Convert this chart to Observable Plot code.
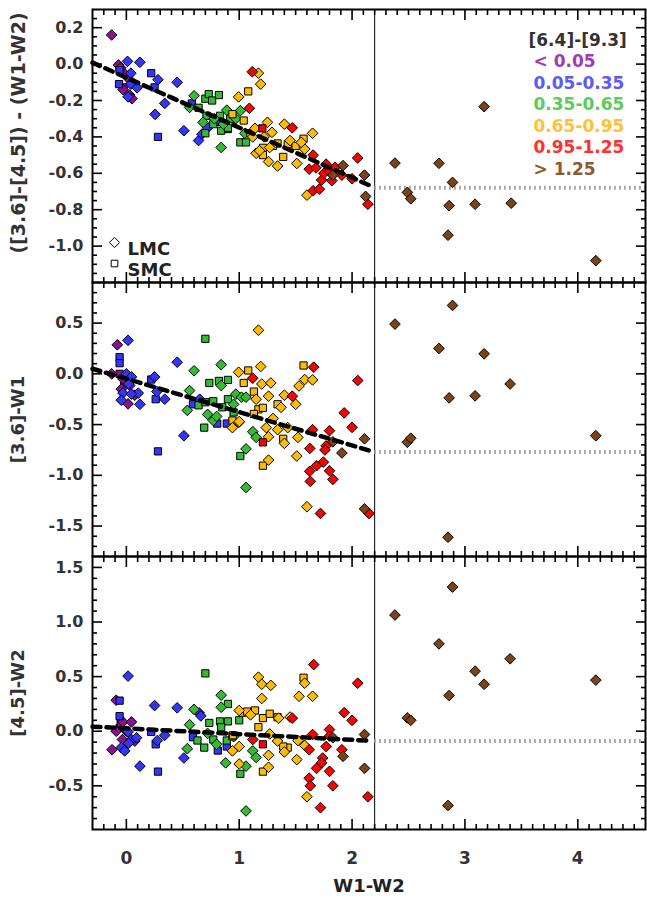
<!DOCTYPE html>
<html><head><meta charset="utf-8">
<script src="https://cdn.jsdelivr.net/npm/d3@7"></script>
<script src="https://cdn.jsdelivr.net/npm/@observablehq/plot@0.6"></script>
<style>
body{margin:0;background:#fff;}
#chart{width:647px;}
#chart svg{display:block;}
</style></head><body><div id="chart"></div>
<script>
// [6.4]-[9.3] colour classes
const groupLabels = ["< 0.05","0.05-0.35","0.35-0.65","0.65-0.95","0.95-1.25","> 1.25"];
const markerColors = ["#8c0f96","#3434ff","#33bb33","#ffbb00","#ff0000","#7b4418"];
const legendColors = ["#a23bb0","#5a5aff","#5acc5a","#ffc233","#ff3030","#8e5a30"];
const xDomain = [-0.3, 4.6];
const xMajor = [0, 1, 2, 3, 4];
const splitX = 2.2;

// points: [W1-W2, y, class, SMC?]
const topPts = [
[-0.13,0.16,0,0],[-0.07,-0.005,0,0],[-0.06,-0.02,0,1],[-0.03,-0.14,0,0],[0.03,-0.17,0,0],[0.05,-0.19,0,0],[-0.02,-0.05,0,0],[-0.02,-0.128,0,1],[-0.05,-0.02,0,0],[0.02,-0.08,0,0],
[0.01,0.015,1,0],[0.12,0.01,1,0],[0.04,-0.05,1,0],[0.04,-0.11,1,0],[0.015,-0.18,1,0],[0.095,-0.13,1,0],[0.28,-0.086,1,0],[0.34,-0.216,1,0],[0.255,-0.276,1,0],[0.45,-0.10,1,0],[0.51,-0.366,1,0],[0.64,-0.42,1,0],[0.67,-0.385,1,0],[0.72,-0.35,1,0],
[-0.06,-0.033,1,1],[-0.065,-0.11,1,1],[0.22,-0.05,1,1],[0.25,-0.128,1,1],[0.28,-0.40,1,1],[0.58,-0.216,1,1],[0.805,-0.317,1,1],[0.9,-0.357,1,1],
[0.60,-0.174,2,0],[0.84,-0.458,2,0],[0.89,-0.253,2,0],[0.68,-0.32,2,0],[0.56,-0.238,2,0],[1.01,-0.256,2,0],[0.97,-0.30,2,0],[1.05,-0.38,2,0],[0.78,-0.30,2,0],[0.86,-0.33,2,0],
[0.70,-0.19,2,1],[0.73,-0.165,2,1],[0.76,-0.20,2,1],[0.82,-0.17,2,1],[0.71,-0.284,2,1],[0.83,-0.284,2,1],[0.70,-0.38,2,1],[0.84,-0.366,2,1],[1.01,-0.43,2,1],[0.64,-0.24,2,1],[0.9,-0.35,2,1],[1.06,-0.43,2,1],[0.92,-0.30,2,1],[0.77,-0.33,2,1],
[0.995,-0.18,3,0],[1.17,-0.05,3,0],[1.19,-0.11,3,0],[1.25,-0.32,3,0],[1.29,-0.375,3,0],[1.40,-0.33,3,0],[1.65,-0.38,3,0],[1.15,-0.49,3,0],[1.26,-0.536,3,0],[1.34,-0.56,3,0],[1.51,-0.546,3,0],[1.60,-0.72,3,0],[1.58,-0.467,3,0],[1.27,-0.458,3,0],[1.18,-0.476,3,0],[1.14,-0.353,3,0],[1.12,-0.40,3,0],[1.45,-0.42,3,0],[1.55,-0.43,3,0],[1.22,-0.40,3,0],
[0.94,-0.275,3,1],[1.08,-0.15,3,1],[1.04,-0.31,3,1],[1.57,-0.41,3,1],[1.21,-0.46,3,1],[1.21,-0.50,3,1],[1.34,-0.436,3,1],[1.39,-0.51,3,1],[1.43,-0.44,3,1],[1.50,-0.45,3,1],[1.30,-0.45,3,1],[1.10,-0.38,3,1],
[1.116,-0.042,4,0],[1.09,-0.243,4,0],[1.47,-0.35,4,0],[1.655,-0.50,4,0],[1.62,-0.577,4,0],[1.68,-0.57,4,0],[1.77,-0.55,4,0],[1.73,-0.637,4,0],[1.655,-0.696,4,0],[1.71,-0.687,4,0],[1.82,-0.64,4,0],[1.85,-0.567,4,0],[1.91,-0.61,4,0],[2.05,-0.516,4,0],[2.0,-0.63,4,0],[2.14,-0.77,4,0],[1.75,-0.60,4,0],[1.80,-0.59,4,0],
[1.205,-0.353,4,1],
[1.92,-0.558,5,0],[1.83,-0.61,5,0],[2.11,-0.61,5,0],[2.12,-0.727,5,0],[2.38,-0.544,5,0],[2.77,-0.545,5,0],[3.17,-0.234,5,0],[2.49,-0.705,5,0],[2.52,-0.74,5,0],[2.89,-0.65,5,0],[2.86,-0.778,5,0],[3.09,-0.77,5,0],[3.41,-0.764,5,0],[2.85,-0.94,5,0],[4.16,-1.08,5,0]
];
const midPts = [
[-0.08,0.286,0,0],[-0.13,0.0,0,0],[-0.06,0.0,0,1],[-0.03,-0.05,0,0],[-0.045,-0.15,0,0],[0.015,-0.296,0,0],[0.03,-0.115,0,0],[0.075,-0.21,0,0],[-0.02,-0.10,0,1],
[0.015,0.33,1,0],[0.45,0.115,1,0],[0.0,0.0,1,0],[0.045,-0.03,1,0],[-0.03,-0.19,1,0],[-0.045,-0.26,1,0],[0.12,-0.30,1,0],[0.105,-0.19,1,0],[0.045,-0.2,1,0],[0.27,-0.175,1,0],[0.34,-0.25,1,0],[0.25,-0.03,1,0],[0.51,-0.61,1,0],[0.65,-0.25,1,0],[0.02,-0.10,1,0],
[-0.06,0.164,1,1],[-0.06,0.105,1,1],[0.22,-0.056,1,1],[0.26,-0.25,1,1],[0.28,-0.764,1,1],[0.59,-0.30,1,1],[0.805,-0.49,1,1],[0.89,-0.49,1,1],
[0.84,0.09,2,0],[0.60,0.03,2,0],[0.56,-0.165,2,0],[0.54,-0.36,2,0],[0.77,-0.46,2,0],[0.84,-0.115,2,0],[0.97,-0.2,2,0],[1.02,-0.23,2,0],[1.06,-0.23,2,0],[1.12,-0.57,2,0],[1.15,-0.626,2,0],[1.06,-0.74,2,0],[1.06,-1.12,2,0],[0.72,-0.40,2,0],[0.80,-0.42,2,0],[0.95,-0.30,2,0],
[0.70,0.345,2,1],[0.735,-0.09,2,1],[0.82,-0.07,2,1],[0.90,-0.06,2,1],[0.64,-0.31,2,1],[0.70,-0.28,2,1],[0.77,-0.27,2,1],[0.90,-0.25,2,1],[0.69,-0.53,2,1],[1.01,-0.81,2,1],[0.85,-0.33,2,1],[0.95,-0.38,2,1],
[0.995,0.016,3,0],[1.17,0.43,3,0],[1.19,0.072,3,0],[1.2,-0.10,3,0],[1.28,-0.09,3,0],[1.53,-0.12,3,0],[1.58,-0.056,3,0],[1.65,-0.06,3,0],[1.40,-0.21,3,0],[1.50,-0.30,3,0],[1.26,-0.22,3,0],[1.15,-0.25,3,0],[1.37,-0.33,3,0],[0.94,-0.53,3,0],[0.995,-0.48,3,0],[1.30,-0.44,3,0],[1.24,-0.53,3,0],[1.34,-0.55,3,0],[1.43,-0.53,3,0],[1.52,-0.626,3,0],[1.40,-0.685,3,0],[1.26,-0.62,3,0],[1.51,-0.81,3,0],[1.26,-0.85,3,0],[1.60,-1.31,3,0],[1.0,-0.47,3,0],
[0.94,-0.46,3,1],[1.57,0.082,3,1],[1.08,0.033,3,1],[1.04,-0.09,3,1],[1.13,-0.175,3,1],[1.34,-0.30,3,1],[1.17,-0.35,3,1],[1.21,-0.335,3,1],[1.13,-0.395,3,1],[1.39,-0.64,3,1],[1.21,-0.905,3,1],
[1.66,0.066,4,0],[2.05,-0.066,4,0],[1.12,-0.043,4,0],[1.47,-0.22,4,0],[1.65,-0.55,4,0],[1.80,-0.56,4,0],[1.93,-0.385,4,0],[2.0,-0.527,4,0],[1.625,-0.735,4,0],[1.77,-0.71,4,0],[1.745,-0.87,4,0],[1.685,-0.905,4,0],[1.625,-0.96,4,0],[1.80,-0.955,4,0],[1.83,-1.04,4,0],[1.63,-1.06,4,0],[1.72,-1.376,4,0],[2.15,-1.376,4,0],[1.76,-0.75,4,0],
[1.21,-0.675,4,1],
[1.83,-0.67,5,0],[1.91,-0.78,5,0],[2.11,-0.64,5,0],[2.11,-1.33,5,0],[2.89,0.674,5,0],[2.38,0.49,5,0],[2.77,0.25,5,0],[3.17,0.197,5,0],[3.40,-0.1,5,0],[2.86,-0.237,5,0],[3.09,-0.217,5,0],[2.49,-0.675,5,0],[2.52,-0.635,5,0],[4.16,-0.61,5,0],[2.85,-1.61,5,0]
];
const botPts = [
[-0.09,0.284,0,0],[-0.03,0.085,0,0],[0.045,0.085,0,0],[-0.06,0.03,0,1],[-0.09,0.0,0,0],[0.0,0.0,0,0],[-0.035,-0.076,0,0],[-0.127,-0.17,0,0],[0.075,-0.09,0,0],[-0.05,0.07,0,1],
[0.015,0.505,1,0],[0.25,0.235,1,0],[0.45,0.214,1,0],[0.015,-0.006,1,0],[0.045,-0.076,1,0],[0.09,-0.06,1,0],[-0.045,-0.15,1,0],[-0.015,-0.18,1,0],[0.12,-0.32,1,0],[0.275,-0.085,1,0],[0.34,-0.037,1,0],[0.51,-0.245,1,0],[0.645,0.168,1,0],[0.66,0.14,1,0],[0.02,-0.11,1,0],
[-0.06,0.28,1,1],[-0.06,0.138,1,1],[0.22,-0.006,1,1],[0.26,-0.12,1,1],[0.28,-0.37,1,1],[0.59,-0.055,1,1],[0.81,-0.177,1,1],[0.89,-0.14,1,1],
[0.60,0.2,2,0],[0.56,0.06,2,0],[0.54,-0.16,2,0],[0.84,0.33,2,0],[0.84,0.22,2,0],[0.88,-0.29,2,0],[1.06,-0.73,2,0],[1.12,-0.18,2,0],[1.15,-0.24,2,0],[1.06,-0.32,2,0],[0.72,-0.02,2,0],[0.95,-0.05,2,0],[0.80,-0.12,2,0],
[0.70,0.53,2,1],[0.90,0.25,2,1],[0.735,0.076,2,1],[0.83,0.09,2,1],[0.9,0.09,2,1],[0.63,-0.085,2,1],[0.69,-0.15,2,1],[0.77,-0.076,2,1],[0.84,0.037,2,1],[0.89,-0.085,2,1],[1.01,-0.39,2,1],[1.0,0.1,2,1],
[1.0,-0.30,3,0],[1.0,-0.14,3,0],[1.0,0.19,3,0],[1.17,0.495,3,0],[1.2,0.43,3,0],[1.28,0.42,3,0],[1.58,0.44,3,0],[1.2,0.3,3,0],[1.53,0.32,3,0],[1.65,0.32,3,0],[1.27,-0.025,3,0],[1.34,-0.09,3,0],[1.52,-0.085,3,0],[1.58,-0.13,3,0],[1.40,-0.19,3,0],[1.51,-0.26,3,0],[1.26,-0.22,3,0],[1.26,-0.33,3,0],[0.94,-0.18,3,0],[1.60,-0.60,3,0],[1.35,0.12,3,0],[1.45,0.13,3,0],[1.1,0.15,3,0],
[0.94,-0.046,3,1],[1.57,0.49,3,1],[1.03,0.17,3,1],[1.07,0.18,3,1],[1.14,0.19,3,1],[1.21,0.12,3,1],[1.34,0.128,3,1],[1.27,0.16,3,1],[0.945,-0.037,3,1],[1.17,0.037,3,1],[1.43,-0.15,3,1],[1.21,-0.37,3,1],[1.39,-0.14,3,1],
[1.66,0.61,4,0],[2.05,0.44,4,0],[1.47,0.12,4,0],[1.12,-0.076,4,0],[1.65,-0.03,4,0],[1.80,0.015,4,0],[1.80,-0.045,4,0],[1.77,-0.14,4,0],[1.62,-0.17,4,0],[1.93,0.17,4,0],[2.0,0.1,4,0],[1.91,-0.17,4,0],[1.74,-0.245,4,0],[1.73,-0.29,4,0],[1.685,-0.34,4,0],[1.80,-0.367,4,0],[1.62,-0.43,4,0],[1.63,-0.5,4,0],[1.83,-0.5,4,0],[1.72,-0.70,4,0],[2.14,-0.60,4,0],
[1.21,-0.12,4,1],
[2.11,-0.03,5,0],[1.92,-0.23,5,0],[2.11,-0.34,5,0],[1.83,-0.06,5,0],[2.89,1.32,5,0],[2.38,1.064,5,0],[2.77,0.80,5,0],[3.40,0.663,5,0],[3.09,0.55,5,0],[3.17,0.43,5,0],[4.16,0.468,5,0],[2.86,0.327,5,0],[2.49,0.122,5,0],[2.52,0.10,5,0],[2.85,-0.68,5,0]
];

// fitted relations (dashed) and mean level beyond W1-W2 = 2.2 (dotted)
const topFit = [[-0.3,0.008],[2.15,-0.665]];
const midFit = [[-0.3,0.05],[2.15,-0.755]];
const botFit = [[-0.3,0.042],[2.15,-0.087]];
const topLevel = -0.68, midLevel = -0.77, botLevel = -0.09;

const topYDomain = [-1.2, 0.3], midYDomain = [-1.8, 0.9], botYDomain = [-0.9, 1.6];
const topYMajor = [-1.0,-0.8,-0.6,-0.4,-0.2,0.0,0.2];
const midYMajor = [-1.5,-1.0,-0.5,0.0,0.5];
const botYMajor = [-0.5,0.0,0.5,1.0,1.5];
const topYLabel = "([3.6]-[4.5]) - (W1-W2)";
const midYLabel = "[3.6]-W1";
const botYLabel = "[4.5]-W2";
const xLabel = "W1-W2";

const FONT = "DejaVu Sans";
const xMinor = d3.range(-2, 46).filter(i => i % 10 !== 0).map(i => i / 10);
function minorTicks(lo, hi, step, every) {
  return d3.range(lo, hi + 1).filter(i => i % every !== 0).map(i => +(i * step).toFixed(3));
}

function panel({pts, yDomain, yMajor, yMinor, fit, level, yLabel, labelDy = 0, labelSize = 18, height, marginTop, marginBottom, bottomLabels, extra = []}) {
  const marks = [];
  // ticks inward on all four sides
  marks.push(Plot.axisX(xMajor, {anchor: "bottom", tickSize: -10, stroke: "black", strokeWidth: 1.6,
    fill: bottomLabels ? "#333" : "none", tickPadding: 32, fontSize: 17, tickFormat: d => String(d), label: null}));
  marks.push(Plot.axisX(xMinor, {anchor: "bottom", tickSize: -5, stroke: "black", strokeWidth: 1.6, fill: "none", label: null}));
  marks.push(Plot.axisX(xMajor, {anchor: "top", tickSize: -10, stroke: "black", strokeWidth: 1.6, fill: "none", label: null}));
  marks.push(Plot.axisX(xMinor, {anchor: "top", tickSize: -5, stroke: "black", strokeWidth: 1.6, fill: "none", label: null}));
  marks.push(Plot.axisY(yMajor, {anchor: "left", tickSize: -10, stroke: "black", strokeWidth: 1.6, fill: "#333",
    tickPadding: 19, fontSize: 16, tickFormat: d => d.toFixed(1), label: null}));
  marks.push(Plot.axisY(yMinor, {anchor: "left", tickSize: -5, stroke: "black", strokeWidth: 1.6, fill: "none", label: null}));
  marks.push(Plot.axisY(yMajor, {anchor: "right", tickSize: -10, stroke: "black", strokeWidth: 1.6, fill: "none", label: null}));
  marks.push(Plot.axisY(yMinor, {anchor: "right", tickSize: -5, stroke: "black", strokeWidth: 1.6, fill: "none", label: null}));
  marks.push(Plot.ruleX([splitX], {stroke: "black", strokeWidth: 1}));
  marks.push(Plot.ruleY([level], {x1: splitX, x2: xDomain[1], stroke: "#9a9a9a", strokeWidth: 4, strokeDasharray: "1.6,3.4"}));
  for (let g = 0; g < 6; g++) {
    marks.push(Plot.dot(pts.filter(d => d[2] === g && d[3] === 1), {x: d => d[0], y: d => d[1], symbol: "square2", r: 4.6,
      fill: markerColors[g], stroke: "black", strokeWidth: 1}));
    marks.push(Plot.dot(pts.filter(d => d[2] === g && d[3] === 0), {x: d => d[0], y: d => d[1], symbol: "diamond2", r: 4.8,
      fill: markerColors[g], stroke: "black", strokeWidth: 1}));
  }
  marks.push(Plot.line(fit, {x: d => d[0], y: d => d[1], stroke: "black", strokeWidth: 4.5, strokeDasharray: "8,6"}));
  marks.push(Plot.text([yLabel], {frameAnchor: "left", textAnchor: "middle", dx: -74, dy: labelDy, rotate: -90, fontSize: labelSize, fill: "#333", fontWeight: "bold"}));
  marks.push(Plot.frame({stroke: "black", strokeWidth: 2}));
  marks.push(...extra);
  return Plot.plot({
    width: 647, height, marginLeft: 92, marginRight: 2, marginTop, marginBottom,
    x: {domain: xDomain}, y: {domain: yDomain},
    style: {fontFamily: FONT, fontSize: "16px", fontWeight: "bold", background: "white", color: "black", overflow: "visible"},
    marks
  });
}

const legendMarks = [
  Plot.text(["[6.4]-[9.3]"], {frameAnchor: "top-left", dx: 436, dy: 24, textAnchor: "start", fontSize: 17, fill: "#333", fontWeight: "bold"}),
  ...groupLabels.map((t, i) => Plot.text([t], {frameAnchor: "top-left", dx: 441, dy: 45.5 + i * 21.6, textAnchor: "start", fontSize: 17, fill: legendColors[i], fontWeight: "bold"})),
  Plot.dot([0], {frameAnchor: "top-left", dx: 22, dy: 233, symbol: "diamond2", r: 4.6, fill: "white", stroke: "black", strokeWidth: 1}),
  Plot.dot([0], {frameAnchor: "top-left", dx: 22, dy: 254, symbol: "square2", r: 4.2, fill: "white", stroke: "black", strokeWidth: 1}),
  Plot.text(["LMC"], {frameAnchor: "top-left", dx: 35, dy: 233, textAnchor: "start", fontSize: 18, fill: "#222", fontWeight: "bold"}),
  Plot.text(["SMC"], {frameAnchor: "top-left", dx: 35, dy: 254, textAnchor: "start", fontSize: 18, fill: "#222", fontWeight: "bold"})
];

const chart = document.getElementById("chart");
chart.append(panel({pts: topPts, yDomain: topYDomain, yMajor: topYMajor, yMinor: minorTicks(-23, 5, 0.05, 4),
  fit: topFit, level: topLevel, yLabel: topYLabel, labelDy: -13, labelSize: 19, height: 282, marginTop: 9, marginBottom: 0, bottomLabels: false, extra: legendMarks}));
chart.append(panel({pts: midPts, yDomain: midYDomain, yMajor: midYMajor, yMinor: minorTicks(-17, 8, 0.1, 5),
  fit: midFit, level: midLevel, yLabel: midYLabel, height: 274, marginTop: 0, marginBottom: 0, bottomLabels: false}));
chart.append(panel({pts: botPts, yDomain: botYDomain, yMajor: botYMajor, yMinor: minorTicks(-8, 15, 0.1, 5),
  fit: botFit, level: botLevel, yLabel: botYLabel, height: 345, marginTop: 0, marginBottom: 72, bottomLabels: true,
  extra: [Plot.text([xLabel], {frameAnchor: "bottom", dy: 62, fontSize: 18, fill: "#222", fontWeight: "bold"})]}));
</script></body></html>
